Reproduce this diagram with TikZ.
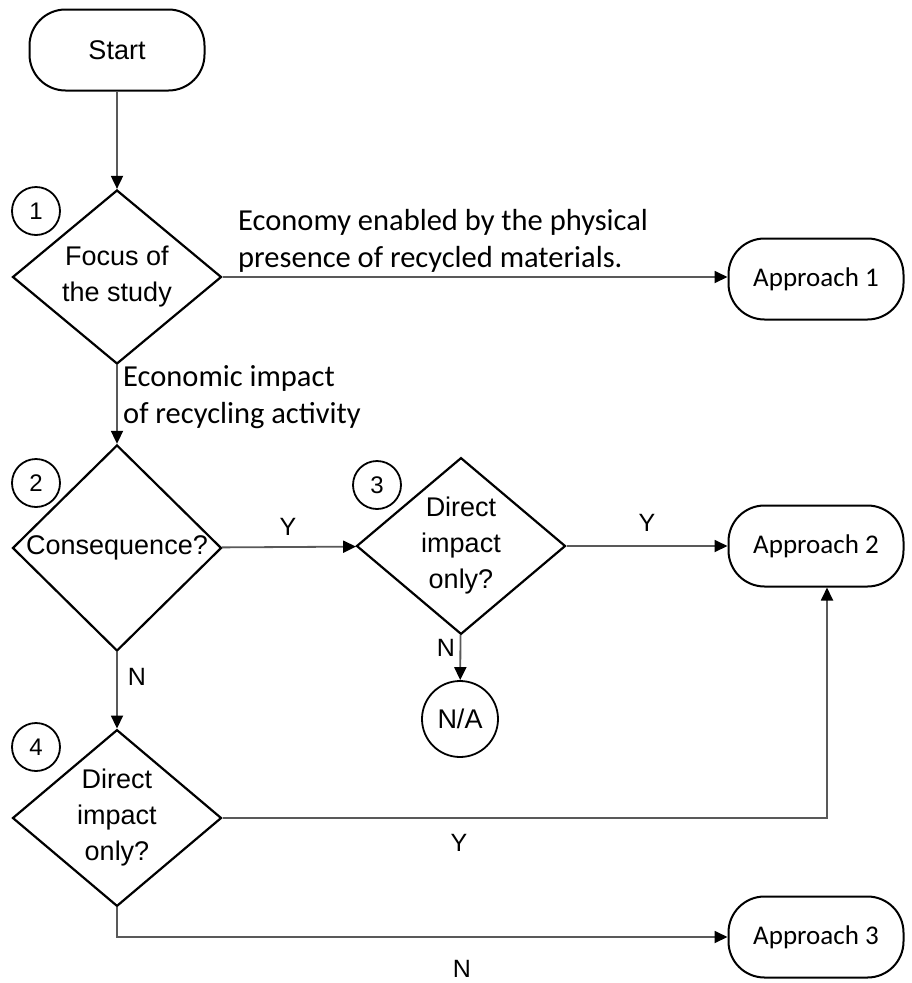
\documentclass[tikz,border=0pt]{standalone}
\usepackage{fontspec}
\setmainfont{Carlito}
\newfontfamily\arialfont{Liberation Sans}
\usetikzlibrary{shapes.geometric,arrows.meta,positioning}
\begin{document}
\begin{tikzpicture}[x=1pt,y=-1pt,>={Triangle[length=13pt,width=12pt,color=black]},
		terminal/.style={draw,line width=2pt,rounded corners=36pt,minimum width=175pt,minimum height=81pt,inner sep=0pt,font=\fontsize{27}{27}\selectfont},
		decision/.style={draw,diamond,line width=2.2pt,minimum width=209pt,minimum height=174pt,inner sep=0pt,align=center,font=\arialfont\fontsize{27}{36}\selectfont},
		stepnum/.style={draw,circle,line width=1.8pt,minimum size=48pt,inner sep=0pt,font=\arialfont\fontsize{24}{24}\selectfont},
		flow/.style={->,line width=1.8pt,black!65},
		edgetext/.style={inner sep=0pt,align=left,font=\fontsize{30.5}{37}\selectfont},
		yn/.style={inner sep=0pt,font=\arialfont\fontsize{25}{25}\selectfont}]
	\useasboundingbox (0,0) rectangle (912,983);
	% shapes
	\node[terminal,font=\arialfont\fontsize{27}{27}\selectfont] (start) at (117,50) {Start};
	\node[decision] (focus) at (117,277) {Focus of\\the study};
	\node[decision] (conseq) at (117,548) {Consequence?};
	\node[decision] (direct3) at (461,546) {Direct\\impact\\only?};
	\node[decision] (direct4) at (117,818) {Direct\\impact\\only?};
	\node[draw,circle,line width=1.8pt,minimum size=76pt,inner sep=0pt,font=\arialfont\fontsize{27}{27}\selectfont] (na) at (460,719) {N/A};
	\node[terminal] (appr1) at (816,279) {Approach 1};
	\node[terminal] (appr2) at (816,546) {Approach 2};
	\node[terminal] (appr3) at (816,937) {Approach 3};
	% step numbers
	\node[stepnum] (n1) at (36,211) {1};
	\node[stepnum] (n2) at (36,483) {2};
	\node[stepnum] (n3) at (377,485) {3};
	\node[stepnum] (n4) at (36,747) {4};
	% connectors
	\draw[flow] (start) -- (focus);
	\draw[flow] (focus.east) -- (focus.east -| appr1.west);
	\draw[flow] (focus) -- (conseq);
	\draw[flow] (conseq) -- (direct3);
	\draw[flow] (direct3.east) -- (direct3.east -| appr2.west);
	\draw[flow] (direct3) -- (na);
	\draw[flow] (conseq) -- (direct4);
	\draw[flow] (direct4.east) -| ([xshift=11pt]appr2.south);
	\draw[flow] (direct4.south) |- (appr3.west);
	% labels
	\node[edgetext,anchor=west] (lab1) at (238,241) {Economy enabled by the physical\\presence of recycled materials.};
	\node[edgetext,anchor=west] (lab2) at (123,397) {Economic impact\\of recycling activity};
	\node[yn] (y1) at (288,527) {Y};
	\node[yn] (y2) at (647,523) {Y};
	\node[yn] (n3lab) at (446,648) {N};
	\node[yn] (n2lab) at (137,677) {N};
	\node[yn] (y4) at (459,843) {Y};
	\node[yn] (n4lab) at (462,969) {N};
\end{tikzpicture}
\end{document}
